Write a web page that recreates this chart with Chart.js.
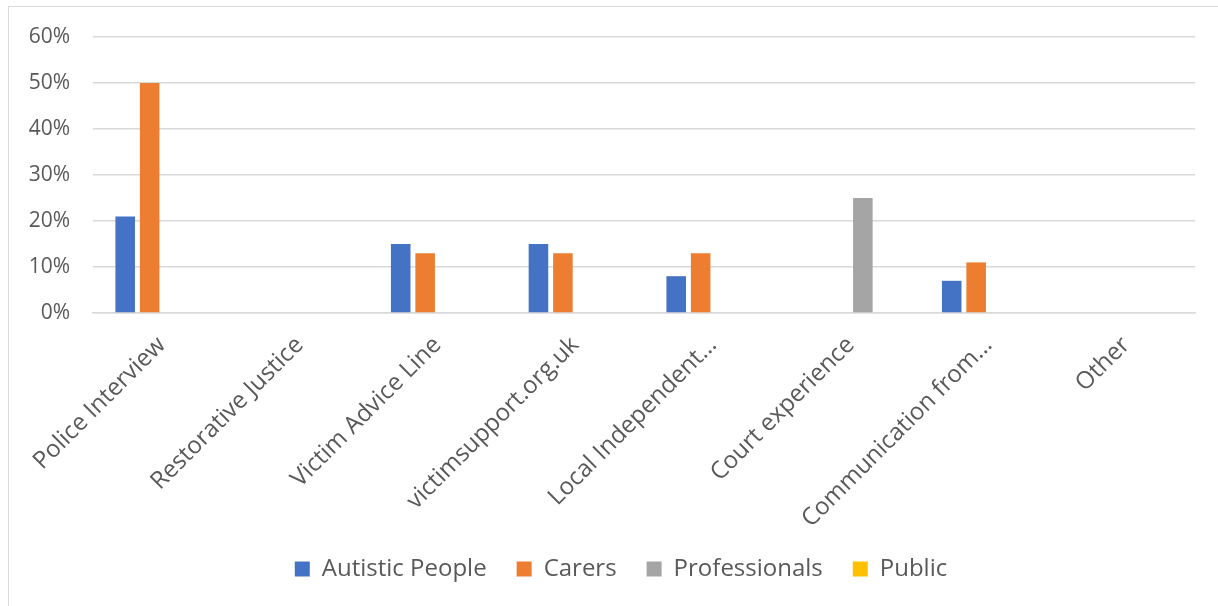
<!DOCTYPE html>
<html>
<head>
<meta charset="utf-8">
<script src="https://cdn.jsdelivr.net/npm/chart.js@4.4.0/dist/chart.umd.min.js"></script>
<style>
  html, body { margin: 0; padding: 0; background: #fff; }
  #frame {
    position: absolute; left: 8px; top: 6px; width: 1210px; height: 600px;
    border-top: 1.5px solid #d9d9d9; border-left: 1.5px solid #d9d9d9;
    box-sizing: border-box;
  }
  #chart { display: block; }
</style>
</head>
<body>
<div id="frame"><canvas id="chart" width="1208" height="598"></canvas></div>
<script>
// categories and series
const categories = ['Police Interview', 'Restorative Justice', 'Victim Advice Line', 'victimsupport.org.uk',
    'Local Independent…', 'Court experience', 'Communication from…', 'Other'];
const autisticPeople = [21, 0, 15, 15, 8, 0, 7, 0];
const carers = [50, 0, 13, 13, 13, 0, 11, 0];
const professionals = [0, 0, 0, 0, 0, 25, 0, 0];
const publicValues = [0, 0, 0, 0, 0, 0, 0, 0];
const yTicks = [0, 10, 20, 30, 40, 50, 60];

const fontFamily = "'Open Sans', sans-serif";
const textColor = '#595959';

function bar(label, data, color) {
    return {
        label: label,
        data: data,
        backgroundColor: color,
        borderWidth: 0,
        categoryPercentage: 0.71,
        barPercentage: 0.8
    };
}

// the legend in the original sits right of the canvas centre and a bit higher
const legendShift = {
    id: 'legendShift',
    afterLayout: function (chart) {
        const lg = chart.legend;
        if (lg) {
            lg.left += 19;
            lg.right += 19;
            lg.top -= 14;
            lg.bottom -= 14;
        }
    }
};

new Chart(document.getElementById('chart'), {
    type: 'bar',
    data: {
        labels: categories,
        datasets: [
            bar('Autistic People', autisticPeople, '#4472C4'),
            bar('Carers', carers, '#ED7D31'),
            bar('Professionals', professionals, '#A5A5A5'),
            bar('Public', publicValues, '#FFC000')
        ]
    },
    plugins: [legendShift],
    options: {
        responsive: false,
        animation: false,
        layout: { padding: { top: 30, left: 0, right: 22, bottom: 0 } },
        plugins: {
            legend: {
                position: 'bottom',
                labels: {
                    boxWidth: 15,
                    boxHeight: 15,
                    padding: 30,
                    font: { family: fontFamily, size: 24 },
                    color: textColor
                }
            },
            tooltip: { enabled: false }
        },
        scales: {
            x: {
                grid: { display: false },
                border: { color: '#d9d9d9', width: 1.5 },
                afterFit: function (axis) { axis.height = 228; },
                ticks: {
                    font: { family: fontFamily, size: 24 },
                    color: textColor,
                    minRotation: 45,
                    maxRotation: 45,
                    autoSkip: false,
                    padding: 10
                }
            },
            y: {
                min: 0,
                max: 60,
                grid: { color: '#d9d9d9', lineWidth: 1.5, drawTicks: false },
                border: { display: false },
                afterFit: function (axis) {
                    axis.width = 84;
                    // tick padding would otherwise push the plot top down
                    axis.paddingTop = 0;
                    axis.paddingBottom = 0;
                },
                afterBuildTicks: function (axis) {
                    axis.ticks = yTicks.map(function (v) { return { value: v }; });
                },
                ticks: {
                    font: { family: fontFamily, size: 21 },
                    color: textColor,
                    padding: 23,
                    callback: function (v) { return v + '%'; }
                }
            }
        }
    }
});
</script>
</body>
</html>
